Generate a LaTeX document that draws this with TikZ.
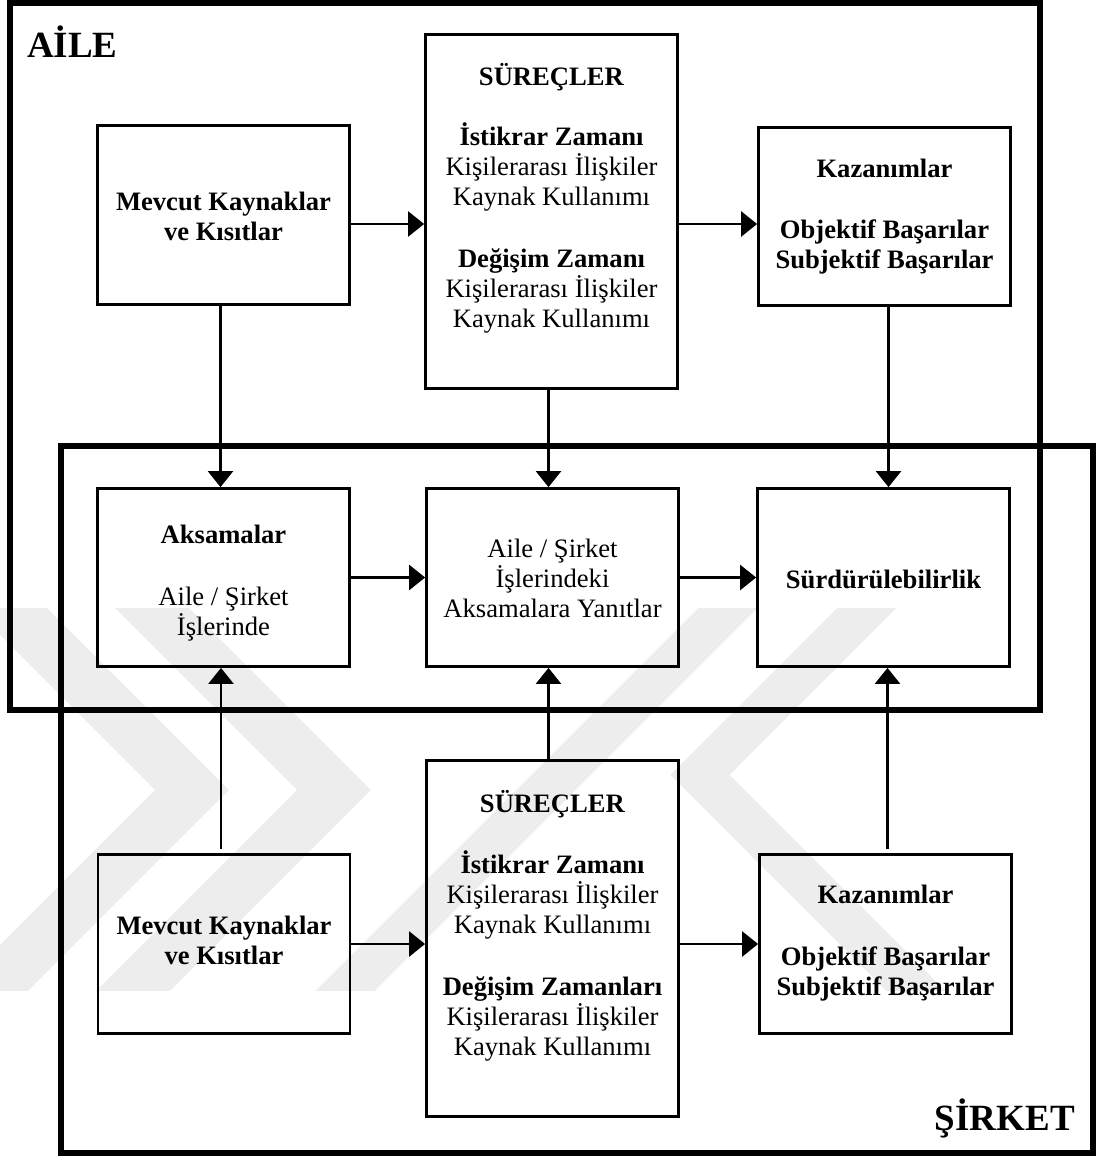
\documentclass[tikz,border=0pt]{standalone}
\usepackage{fontspec}
\setmainfont{Liberation Serif}
\usetikzlibrary{arrows.meta,calc}

% struts that fix the height of the first and the depth of the last text line
\newcommand{\ustrut}{\rule{0pt}{24pt}}
\newcommand{\astrut}{\rule[-8pt]{0pt}{8pt}}

\begin{document}
\begin{tikzpicture}[x=1pt,y=-1pt,
  frame/.style={draw, line width=5.5pt, line join=miter},
  blok/.style={draw, line width=2.8pt, inner sep=0pt, minimum width=252pt},
  yazi/.style={align=center, inner sep=0pt, font=\fontsize{26.6}{30}\selectfont},
  baslik/.style={inner sep=0pt, font=\fontsize{37}{44}\selectfont\bfseries},
  ok/.style={line width=2.6pt, -{Triangle[length=16pt,width=25pt]}},
  iz/.style={draw=black!7, line width=52pt, line join=miter, line cap=butt}
]
\useasboundingbox (0,0) rectangle (1097,1158);

% faint background emblem
\begin{scope}
  \clip (0,608) rectangle (1097,990);
  \draw[iz] (-90,508) -- (192,790) -- (-90,1072);
  \draw[iz] (52,508) -- (334,790) -- (52,1072);
  \draw[iz, line width=42pt] (826,510) -- (256,1080);
  \draw[iz, line width=42pt] (1030,445) -- (700,775) -- (1000,1075);
\end{scope}

% the two domains
\draw[frame] (10,3) rectangle (1040,710);
\draw[frame] (61,446) rectangle (1093,1153);

\node[baslik, anchor=base west] (aile) at (27,58) {AİLE};
\node[baslik, anchor=base east] (sirket) at (1075,1130) {ŞİRKET};

% boxes
\node[blok, minimum height=179pt] (mevA) at (223.5,215) {};
\node[blok, minimum height=354pt] (surA) at (551.5,211.5) {};
\node[blok, minimum height=178pt] (kazA) at (884.5,216.5) {};
\node[blok, minimum height=178pt] (aks)  at (223.5,577.5) {};
\node[blok, minimum height=178pt] (yan)  at (552.5,577.5) {};
\node[blok, minimum height=178pt] (sur)  at (883.5,577.5) {};
\node[blok, minimum height=179pt] (mevB) at (224,944) {};
\node[blok, minimum height=356pt] (surB) at (552.5,938.5) {};
\node[blok, minimum height=179pt] (kazB) at (885.5,944) {};

% box texts
\node[yazi] (tmevA) at (223.5,217.5) {\ustrut\textbf{Mevcut Kaynaklar}\\\textbf{ve Kısıtlar}\astrut};
\node[yazi] (tsurA) at (551.5,198) {\ustrut\textbf{SÜREÇLER}\\[30pt]\textbf{İstikrar Zamanı}\\Kişilerarası İlişkiler\\Kaynak Kullanımı\\[32pt]\textbf{Değişim Zamanı}\\Kişilerarası İlişkiler\\Kaynak Kullanımı\astrut};
\node[yazi] (tkazA) at (884.5,215) {\ustrut\textbf{Kazanımlar}\\[31pt]\textbf{Objektif Başarılar}\\\textbf{Subjektif Başarılar}\astrut};
\node[yazi] (taks) at (223.5,581) {\ustrut\textbf{Aksamalar}\\[32pt]Aile / Şirket\\İşlerinde\astrut};
\node[yazi] (tyan) at (552.5,579) {\ustrut Aile / Şirket\\İşlerindeki\\Aksamalara Yanıtlar\astrut};
\node[yazi] (tsur) at (883.5,580) {\ustrut\textbf{Sürdürülebilirlik}\astrut};
\node[yazi] (tmevB) at (224,941) {\ustrut\textbf{Mevcut Kaynaklar}\\\textbf{ve Kısıtlar}\astrut};
\node[yazi] (tsurB) at (552.5,925.5) {\ustrut\textbf{SÜREÇLER}\\[31pt]\textbf{İstikrar Zamanı}\\Kişilerarası İlişkiler\\Kaynak Kullanımı\\[32pt]\textbf{Değişim Zamanları}\\Kişilerarası İlişkiler\\Kaynak Kullanımı\astrut};
\node[yazi] (tkazB) at (885.5,941) {\ustrut\textbf{Kazanımlar}\\[32pt]\textbf{Objektif Başarılar}\\\textbf{Subjektif Başarılar}\astrut};

% horizontal flows
\coordinate (h1) at ([yshift=-9pt]mevA.east);
\draw[ok] (h1) -- (h1 -| surA.west);
\coordinate (h2) at ([yshift=-7.5pt]kazA.west);
\draw[ok] (h2 -| surA.east) -- (h2);
\draw[ok] (aks) -- (yan);
\draw[ok] (yan) -- (sur);
\draw[ok] (mevB.east) -- (mevB.east -| surB.west);
\draw[ok] (kazB.west -| surB.east) -- (kazB.west);

% vertical flows into the shared row
\coordinate (v1) at ([xshift=-3pt]mevA.south);
\draw[ok] (v1) -- (v1 |- aks.north);
\coordinate (v2) at ([xshift=-3pt]surA.south);
\draw[ok] (v2) -- (v2 |- yan.north);
\coordinate (v3) at ([xshift=4pt]kazA.south);
\draw[ok] (v3) -- (v3 |- sur.north);
\coordinate (v4) at ([xshift=-3pt]mevB.north);
\draw[ok, shorten <=4pt] (v4) -- (v4 |- aks.south);
\coordinate (v5) at ([xshift=-4pt]surB.north);
\draw[ok] (v5) -- (v5 |- yan.south);
\coordinate (v6) at ([xshift=2pt]kazB.north);
\draw[ok, shorten <=4pt] (v6) -- (v6 |- sur.south);
\end{tikzpicture}
\end{document}
